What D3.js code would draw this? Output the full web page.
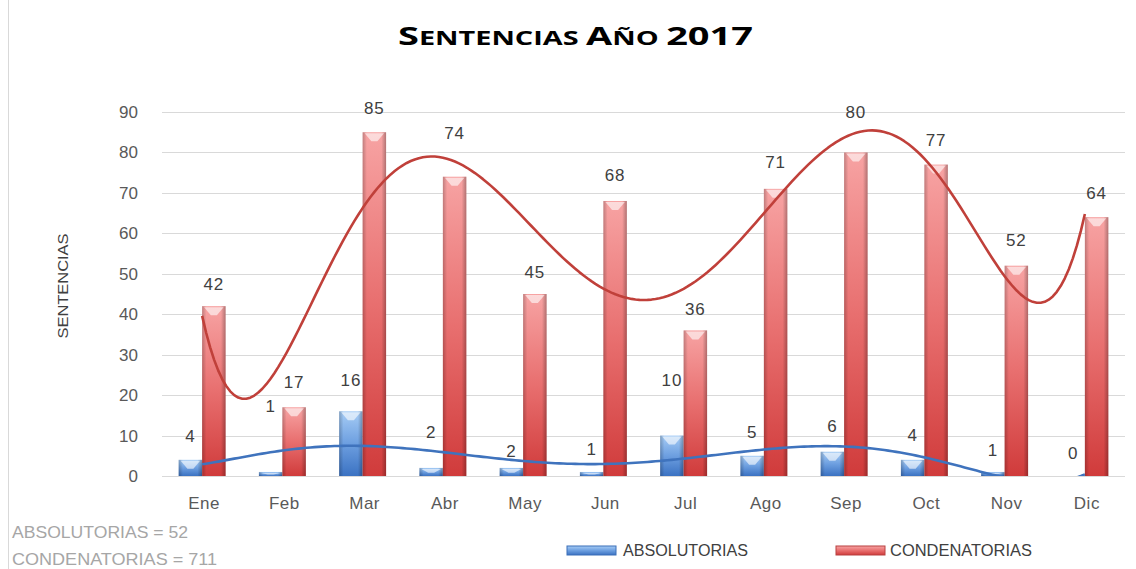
<!DOCTYPE html>
<html>
<head>
<meta charset="utf-8">
<script src="https://cdn.jsdelivr.net/npm/d3@7"></script>
<style>
  body { margin: 0; background: #fff; }
  svg { display: block; font-family: "Liberation Sans", Arial, sans-serif; }
</style>
</head>
<body>
<svg id="chart" width="1136" height="569"></svg>
<script>
// values
var months = ["Ene", "Feb", "Mar", "Abr", "May", "Jun", "Jul", "Ago", "Sep", "Oct", "Nov", "Dic"];
var absolutorias  = [4, 1, 16, 2, 2, 1, 10, 5, 6, 4, 1, 0];
var condenatorias = [42, 17, 85, 74, 45, 68, 36, 71, 80, 77, 52, 64];
var yTicks = [0, 10, 20, 30, 40, 50, 60, 70, 80, 90];
// where the data labels sit (in chart units) - they were nudged by hand in the original
var absLabelAt = [10.0, 17.2, 23.7, 10.8, 6.2, 6.7, 23.7, 10.8, 12.4, 10.2, 6.4, 5.7];
var conLabelAt = [47.5, 23.3, 91.0, 84.8, 50.5, 74.5, 41.4, 77.7, 90.0, 83.2, 58.3, 70.0];

var svg = d3.select("#chart");
var L = 162, R = 1125, T = 112, B = 476;

var x0 = d3.scaleBand().domain(months).range([L, R]).padding(0);
var x1 = d3.scaleBand().domain(["abs", "con"]).range([0, x0.bandwidth()]).paddingInner(0).paddingOuter(0.71);
var y = d3.scaleLinear().domain([0, 90]).range([B, T]);

// gradients
var defs = svg.append("defs");
function vgrad(id, top, mid, bot) {
  var g = defs.append("linearGradient").attr("id", id).attr("x1", 0).attr("y1", 0).attr("x2", 0).attr("y2", 1);
  g.append("stop").attr("offset", "0%").attr("stop-color", top);
  g.append("stop").attr("offset", "50%").attr("stop-color", mid);
  g.append("stop").attr("offset", "100%").attr("stop-color", bot);
}
vgrad("gRed", "#f7a3a3", "#e86f6f", "#d03b3b");
vgrad("gBlue", "#a6ccf5", "#6d9fe0", "#3b72c2");
var edge = defs.append("linearGradient").attr("id", "gEdge").attr("x1", 0).attr("x2", 1).attr("y1", 0).attr("y2", 0);
edge.append("stop").attr("offset", "0%").attr("stop-color", "#000").attr("stop-opacity", 0.22);
edge.append("stop").attr("offset", "18%").attr("stop-color", "#000").attr("stop-opacity", 0);
edge.append("stop").attr("offset", "80%").attr("stop-color", "#000").attr("stop-opacity", 0);
edge.append("stop").attr("offset", "100%").attr("stop-color", "#000").attr("stop-opacity", 0.28);
defs.append("clipPath").attr("id", "plotClip").append("rect")
  .attr("x", L).attr("y", T - 30).attr("width", R - L).attr("height", B - T + 30);

// frame edge at the left
svg.append("line").attr("x1", 8.5).attr("x2", 8.5).attr("y1", 0).attr("y2", 569)
  .attr("stroke", "#d9d9d9");

// title in small caps
var title = svg.append("text").attr("x", 398).attr("y", 45)
  .attr("font-family", "'Open Sans', sans-serif")
  .attr("font-weight", "bold").attr("fill", "#000");
[["S", 25], ["ENTENCIAS ", 19], ["A", 25], ["ÑO ", 19], ["2017", 25]].forEach(function (p) {
  title.append("tspan").attr("font-size", p[1]).text(p[0]);
});
title.attr("textLength", 355).attr("lengthAdjust", "spacingAndGlyphs");

// gridlines + y tick labels
svg.append("g").selectAll("line").data(yTicks).join("line")
  .attr("x1", L).attr("x2", R)
  .attr("y1", function (d) { return Math.round(y(d)) + 0.5; })
  .attr("y2", function (d) { return Math.round(y(d)) + 0.5; })
  .attr("stroke", "#d9d9d9").attr("stroke-width", 1.2);
svg.append("g").selectAll("text").data(yTicks).join("text")
  .attr("x", 138).attr("y", function (d) { return y(d) + 6; })
  .attr("text-anchor", "end").attr("font-size", 17).attr("fill", "#595959")
  .text(function (d) { return d; });

// y axis title
svg.append("text").attr("transform", "translate(68,286) rotate(-90)")
  .attr("text-anchor", "middle").attr("font-size", 15).attr("fill", "#404040")
  .attr("textLength", 105).attr("lengthAdjust", "spacingAndGlyphs")
  .text("SENTENCIAS");

// x labels
svg.append("g").selectAll("text").data(months).join("text")
  .attr("x", function (d) { return x0(d) + x0.bandwidth() / 2 + 2; })
  .attr("y", 509).attr("text-anchor", "middle").attr("font-size", 17).attr("fill", "#595959")
  .attr("letter-spacing", 0.5)
  .text(function (d) { return d; });

// bars
function bars(values, key, fill) {
  var g = svg.append("g");
  var rows = months.map(function (m, i) { return { m: m, v: values[i] }; }).filter(function (d) { return d.v > 0; });
  var bx = function (d) { return x0(d.m) + x1(key); };
  var w = x1.bandwidth();
  g.selectAll("rect.b").data(rows).join("rect").attr("class", "b")
    .attr("x", bx).attr("y", function (d) { return y(d.v); })
    .attr("width", w).attr("height", function (d) { return B - y(d.v); })
    .attr("fill", fill);
  g.selectAll("rect.e").data(rows).join("rect").attr("class", "e")
    .attr("x", bx).attr("y", function (d) { return y(d.v); })
    .attr("width", w).attr("height", function (d) { return B - y(d.v); })
    .attr("fill", "url(#gEdge)");
  // bevel highlight at the top
  g.selectAll("path").data(rows).join("path")
    .attr("d", function (d) {
      var xa = bx(d), ya = y(d.v), hh = Math.min(9, (B - ya) * 0.6);
      return "M" + (xa + 2) + "," + (ya + 1) + "L" + (xa + w - 2) + "," + (ya + 1) +
        "L" + (xa + w / 2 + 3) + "," + (ya + hh) + "L" + (xa + w / 2 - 3) + "," + (ya + hh) + "Z";
    })
    .attr("fill", "#fff").attr("opacity", 0.6);
}
bars(absolutorias, "abs", "url(#gBlue)");
bars(condenatorias, "con", "url(#gRed)");

// polynomial trendline (order 6, least squares) like the spreadsheet's
function polyFit(vals, order) {
  var n = vals.length, c = (n + 1) / 2, s = (n - 1) / 2;
  var m = order + 1, A = [], i, j, k;
  for (i = 0; i < m; i++) { A.push(new Array(m + 1).fill(0)); }
  vals.forEach(function (v, idx) {
    var t = (idx + 1 - c) / s;
    for (i = 0; i < m; i++) {
      for (j = 0; j < m; j++) A[i][j] += Math.pow(t, i + j);
      A[i][m] += v * Math.pow(t, i);
    }
  });
  for (i = 0; i < m; i++) {
    var p = i;
    for (k = i + 1; k < m; k++) if (Math.abs(A[k][i]) > Math.abs(A[p][i])) p = k;
    var tmp = A[i]; A[i] = A[p]; A[p] = tmp;
    for (k = i + 1; k < m; k++) {
      var f = A[k][i] / A[i][i];
      for (j = i; j <= m; j++) A[k][j] -= f * A[i][j];
    }
  }
  var coef = new Array(m).fill(0);
  for (i = m - 1; i >= 0; i--) {
    var sum = A[i][m];
    for (j = i + 1; j < m; j++) sum -= A[i][j] * coef[j];
    coef[i] = sum / A[i][i];
  }
  return function (xv) {
    var t = (xv - c) / s, r = 0;
    for (i = m - 1; i >= 0; i--) r = r * t + coef[i];
    return r;
  };
}
var cx = d3.scaleLinear().domain([1, 12]).range([x0(months[0]) + x0.bandwidth() / 2, x0(months[11]) + x0.bandwidth() / 2]);
function trend(values, color) {
  var f = polyFit(values, 6);
  var pts = d3.range(1, 12.001, 0.05).map(function (xv) { return [cx(xv), y(Math.max(-2, f(xv)))]; });
  svg.append("path").attr("clip-path", "url(#plotClip)")
    .attr("d", d3.line()(pts)).attr("fill", "none")
    .attr("stroke", color).attr("stroke-width", 2.6).attr("stroke-linejoin", "round");
}
trend(condenatorias, "#c0403a");
trend(absolutorias, "#3f73bd");

// data labels
function labels(values, at, key) {
  svg.append("g").selectAll("text").data(values).join("text")
    .attr("x", function (d, i) { return x0(months[i]) + x1(key) + x1.bandwidth() / 2; })
    .attr("y", function (d, i) { return y(at[i]) + 6; })
    .attr("text-anchor", "middle").attr("font-size", 17).attr("fill", "#404040")
    .attr("letter-spacing", 1)
    .text(function (d) { return d; });
}
labels(absolutorias, absLabelAt, "abs");
labels(condenatorias, conLabelAt, "con");

// legend
var legend = [["ABSOLUTORIAS", "url(#gBlue)", "#3b6fb8", 567, 623, 125],
              ["CONDENATORIAS", "url(#gRed)", "#b84040", 836, 890, 142]];
legend.forEach(function (l) {
  svg.append("rect").attr("x", l[3]).attr("y", 546).attr("width", 49).attr("height", 9)
    .attr("fill", l[1]).attr("stroke", l[2]).attr("stroke-width", 1);
  svg.append("text").attr("x", l[4]).attr("y", 556).attr("font-size", 16).attr("fill", "#404040")
    .attr("textLength", l[5]).attr("lengthAdjust", "spacingAndGlyphs").text(l[0]);
});

// totals
var totals = [["ABSOLUTORIAS = " + d3.sum(absolutorias), 538, 176],
              ["CONDENATORIAS = " + d3.sum(condenatorias), 565, 205]];
totals.forEach(function (t) {
  svg.append("text").attr("x", 12).attr("y", t[1]).attr("font-size", 17).attr("fill", "#a6a6a6")
    .attr("textLength", t[2]).attr("lengthAdjust", "spacingAndGlyphs").text(t[0]);
});
</script>
</body>
</html>
